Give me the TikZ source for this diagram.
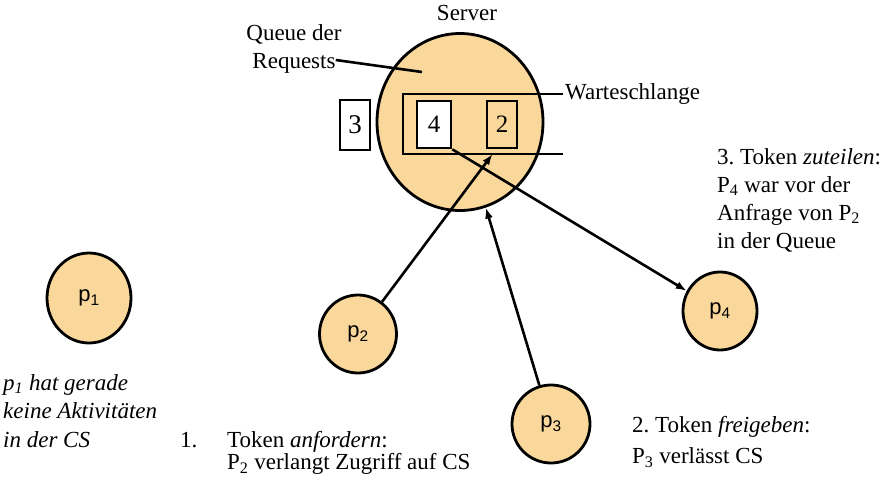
\documentclass[tikz,border=0pt]{standalone}
\usepackage{fontspec}
\setmainfont{Liberation Serif}
\setsansfont{Liberation Sans}
\usetikzlibrary{shapes.geometric,arrows.meta,positioning,calc}
\definecolor{procfill}{HTML}{FAD89C}
\frenchspacing

\begin{document}
\begin{tikzpicture}[x=1pt,y=-1pt,
  proc/.style={ellipse,draw,fill=procfill,line width=2.8pt,inner sep=0,font=\sffamily\fontsize{22}{26}\selectfont},
  slot/.style={draw,line width=2.8pt,inner sep=0,font=\fontsize{25}{30}\selectfont},
  txt/.style={inner sep=0,align=left,font=\fontsize{23}{28}\selectfont},
  conn/.style={line width=2.6pt,-{Latex[length=11pt,width=8pt]}},
  wire/.style={line width=2.6pt}]
  \useasboundingbox (0,0) rectangle (892,477);
  % server with its queue of requests
  \node[proc,minimum width=166,minimum height=177] (server) at (460,122) {};
  \node[txt] (srvlabel) at (467,13) {Server};
  \node[txt,align=center] (qlabel) at (294,49) {Queue der\\Requests};
  \coordinate (qpt) at (422,72);
  \draw[wire] ($(qlabel.east)+(-6,11)$) -- (qpt);
  % Warteschlange
  \coordinate (qtl) at (403,94);
  \coordinate (qtr) at (563,94);
  \coordinate (qbl) at (403,154);
  \coordinate (qbr) at (563,154);
  \draw[wire] (qtr) -- (qtl) -- (qbl) -- (qbr);
  \node[txt,right=2pt of qtr] (wslabel) {Warteschlange};
  \node[slot,fill=white,minimum width=30,minimum height=50,font=\fontsize{27}{30}\selectfont] (slot3) at (355,125) {3};
  \node[slot,fill=white,minimum width=34,minimum height=47] (slot4) at (434,124.5) {4};
  \node[slot,minimum width=30,minimum height=47] (slot2) at (502,124.5) {2};
  % processes
  \node[proc,minimum width=84,minimum height=90] (p1) at (89,298) {p\textsubscript{1}};
  \node[proc,minimum width=77,minimum height=78] (p2) at (358,334) {p\textsubscript{2}};
  \node[proc,minimum width=78,minimum height=78] (p3) at (551,424) {p\textsubscript{3}};
  \node[proc,minimum width=74,minimum height=78] (p4) at (720,311) {p\textsubscript{4}};
  % request, release, grant
  \draw[conn] (p2) -- ($(qbl)!.56!(qbr)$);
  \draw[conn] (p3) -- (server);
  \draw[conn] (slot4.south east) -- (p4);
  % notes
  \node[txt,anchor=north west,font=\itshape\fontsize{23}{28.5}\selectfont] (p1note) at (3,374) {p\textsubscript{1} hat gerade\\keine Aktivitäten\\in der CS};
  \node[txt,anchor=west] (num1) at (180,440) {1.};
  \node[txt,anchor=north west,font=\fontsize{23}{22.5}\selectfont] (step1) at (227,431) {Token \textit{anfordern}:\\P\textsubscript{2} verlangt Zugriff auf CS};
  \node[txt,anchor=north west,font=\fontsize{23}{31}\selectfont] (step2) at (632,416) {2. Token \textit{freigeben}:\\P\textsubscript{3} verlässt CS};
  \node[txt,anchor=north west] (step3) at (717,148) {3. Token \textit{zuteilen}:\\P\textsubscript{4} war vor der\\Anfrage von P\textsubscript{2}\\in der Queue};
\end{tikzpicture}
\end{document}
